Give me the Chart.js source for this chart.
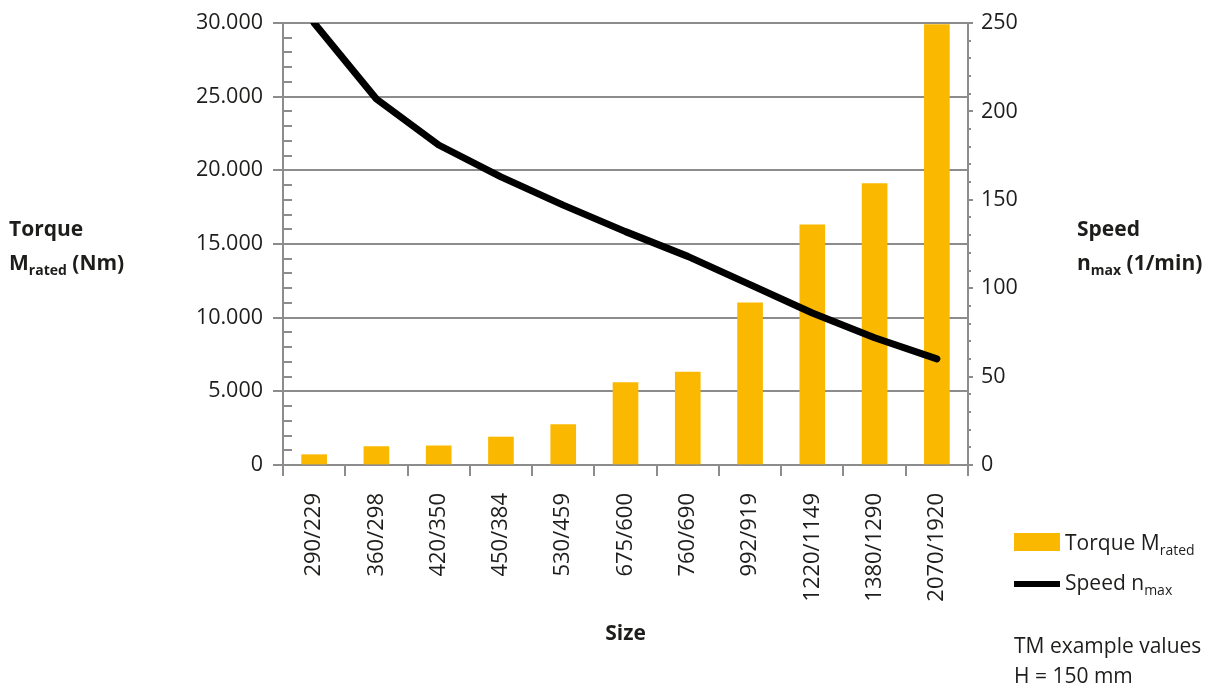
<!DOCTYPE html>
<html>
<head>
<meta charset="utf-8">
<script src="https://cdn.jsdelivr.net/npm/chart.js@4.4.1/dist/chart.umd.min.js"></script>
<style>
  body { margin: 0; background: #fff; font-family: "Open Sans", sans-serif; color: #1d1d1b; }
  .wrap { position: relative; width: 1210px; height: 689px; }
  .txt { position: absolute; font-size: 21px; white-space: nowrap; }
  .axis-title { font-weight: bold; line-height: 34px; }
  sub { font-size: 14px; vertical-align: -5px; line-height: 0; }
  .swatch { position: absolute; }
</style>
</head>
<body>
<div class="wrap">
  <canvas id="chart"></canvas>

  <div class="txt axis-title" style="left:9px; top:211px;">Torque<br>M<sub>rated</sub> (Nm)</div>
  <div class="txt axis-title" style="left:1077px; top:211px;">Speed<br>n<sub>max</sub> (1/min)</div>

  <div class="swatch" style="left:1014px; top:533px; width:46px; height:18px; background:#FAB900;"></div>
  <div class="txt" style="left:1065px; top:527px; line-height:30px;">Torque M<sub>rated</sub></div>
  <div class="swatch" style="left:1014px; top:581px; width:46px; height:6px; background:#000;"></div>
  <div class="txt" style="left:1065px; top:567px; line-height:30px;">Speed n<sub>max</sub></div>

  <div class="txt" style="left:1014px; top:630px; line-height:30px;">TM example values<br>H = 150 mm</div>
</div>

<script>
// sizes on the x axis
const sizes = ["290/229", "360/298", "420/350", "450/384", "530/459", "675/600",
               "760/690", "992/919", "1220/1149", "1380/1290", "2070/1920"];

// rated torque in Nm (bars, left axis)
const torqueRated = [700, 1250, 1300, 1900, 2750, 5600, 6300, 11000, 16300, 19100, 29900];

// max speed in 1/min (line, right axis)
const speedMax = [250, 207, 181, 163, 147, 132, 118, 102, 86, 72, 60];

const gridGrey = "#8c8c8c";
const textColor = "#1d1d1b";

// thousands separator with a dot, like 30.000
const formatTorque = (v) => String(v).replace(/\B(?=(\d{3})+(?!\d))/g, ".");

// small minor tick marks on both value axes
const minorTicks = {
  id: "minorTicks",
  afterDraw(chart) {
    const ctx = chart.ctx;
    const y = chart.scales.y;
    const y2 = chart.scales.y2;
    ctx.save();
    ctx.strokeStyle = gridGrey;
    ctx.lineWidth = 2;
    ctx.beginPath();
    for (let v = 1000; v < 30000; v += 1000) {
      if (v % 5000 === 0) continue;
      const py = Math.round(y.getPixelForValue(v));
      ctx.moveTo(y.right, py);
      ctx.lineTo(y.right + 9, py);
    }
    for (let v = 10; v < 250; v += 10) {
      if (v % 50 === 0) continue;
      const py = Math.round(y2.getPixelForValue(v));
      ctx.moveTo(y2.left, py);
      ctx.lineTo(y2.left + 3, py);
    }
    ctx.stroke();
    ctx.restore();
  }
};

const ctx = document.getElementById("chart").getContext("2d");

new Chart(ctx, {
  data: {
    labels: sizes,
    datasets: [
      {
        type: "line",
        label: "Speed n max",
        data: speedMax,
        yAxisID: "y2",
        borderColor: "#000",
        borderWidth: 7,
        borderCapStyle: "round",
        borderJoinStyle: "round",
        pointRadius: 0,
        tension: 0,
        order: 0,
      },
      {
        type: "bar",
        label: "Torque M rated",
        data: torqueRated,
        yAxisID: "y",
        backgroundColor: "#FAB900",
        barThickness: 25,
        order: 1,
      },
    ],
  },
  options: {
    responsive: true,
    maintainAspectRatio: false,
    animation: false,
    layout: { padding: { top: 23, left: 0, right: 0, bottom: 0 } },
    plugins: {
      legend: { display: false },
      tooltip: { enabled: false },
    },
    scales: {
      x: {
        offset: true,
        grid: {
          offset: true,
          drawOnChartArea: false,
          drawTicks: true,
          tickLength: 11,
          color: gridGrey,
          lineWidth: 2,
        },
        border: { display: true, color: gridGrey, width: 2 },
        ticks: {
          autoSkip: false,
          minRotation: 90,
          maxRotation: 90,
          padding: 17,
          color: textColor,
          font: { family: "Open Sans", size: 22 },
        },
        title: {
          display: true,
          text: "Size",
          color: textColor,
          font: { family: "Open Sans", size: 21, weight: "bold" },
          padding: { top: 0, bottom: 42 },
        },
        afterFit: (scale) => { scale.height = 224; },
      },
      y: {
        position: "left",
        min: 0,
        max: 30000,
        ticks: {
          stepSize: 5000,
          padding: 10,
          color: textColor,
          font: { family: "Open Sans", size: 21.5 },
          callback: formatTorque,
        },
        grid: { color: gridGrey, lineWidth: 2, tickLength: 10 },
        border: { display: true, color: gridGrey, width: 2 },
        afterFit: (scale) => { scale.width = 283; },
      },
      y2: {
        position: "right",
        min: 0,
        max: 250,
        ticks: {
          stepSize: 50,
          padding: 8,
          color: textColor,
          font: { family: "Open Sans", size: 21.5 },
        },
        grid: { drawOnChartArea: false, color: gridGrey, lineWidth: 2, tickLength: 5 },
        border: { display: true, color: gridGrey, width: 2 },
        afterFit: (scale) => { scale.width = 242; },
      },
    },
  },
  plugins: [minorTicks],
});
</script>
</body>
</html>
